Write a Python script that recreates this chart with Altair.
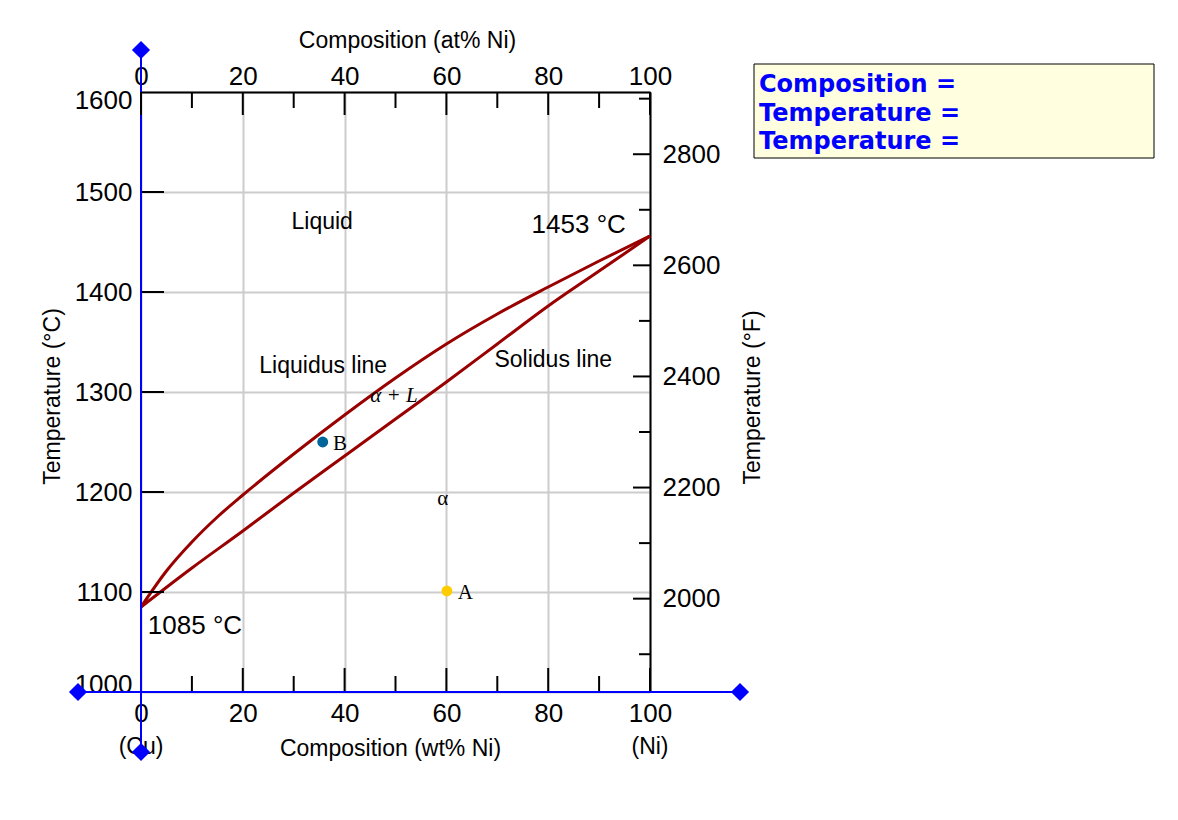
import altair as alt
import pandas as pd

# ---------------- data ----------------
liquidus_wt = [0, 5, 10, 15, 20, 30, 40, 50, 60, 70, 80, 90, 100]
liquidus_T = [1085, 1121, 1150, 1175, 1197, 1238, 1277, 1314, 1348, 1378, 1405, 1431, 1456]
solidus_wt = [0, 10, 20, 30, 40, 50, 60, 70, 80, 90, 100]
solidus_T = [1085, 1124, 1161, 1199, 1236, 1273, 1310, 1348, 1386, 1421, 1456]

point_names = ["A", "B"]
point_wt = [60.1, 35.7]
point_T = [1101, 1250]
point_colors = ["#ffcc00", "#006699"]

sans_labels = ["Liquid", "Liquidus line", "Solidus line"]
sans_wt = [35.6, 35.8, 81.0]
sans_T = [1470, 1326, 1332]

big_labels = ["1453 °C", "1085 °C"]
big_wt = [86.0, 10.6]
big_T = [1467, 1066]

serif_labels = ["B", "α", "A"]
serif_wt = [39.1, 59.3, 63.7]
serif_T = [1248, 1193, 1099]

alphaL_label = ["α + L"]
alphaL_wt = [49.7]
alphaL_T = [1296]

wt_major = [0, 20, 40, 60, 80, 100]
wt_minor = [10, 30, 50, 70, 90]
c_ticks = [1000, 1100, 1200, 1300, 1400, 1500, 1600]
at_major = [0, 20, 40, 60, 80, 100]
at_minor = [10, 30, 50, 70, 90]
f_major = [2000, 2200, 2400, 2600, 2800]
f_minor = [1900, 2100, 2300, 2500, 2700, 2900]

info_lines = ["Composition =", "Temperature =", "Temperature ="]
end_labels = ["(Cu)", "(Ni)"]
end_wt = [0, 100]

W, H = 509, 600
FONT = "Liberation Sans"
RED = "#990000"
BLUE = "#0000ff"

xs = alt.Scale(domain=[0, 100], nice=False, zero=False)
ys = alt.Scale(domain=[1000, 1600], nice=False, zero=False)
xs2 = alt.Scale(domain=[0, 100], nice=False, zero=False)
ys2 = alt.Scale(domain=[1832, 2912], nice=False, zero=False)

common_lbl = dict(labelFont=FONT, labelFontSize=26, labelColor="black", format="d",
                  titleFont=FONT, titleFontSize=23, titleFontWeight="normal", titleColor="black")

x_axis = alt.Axis(orient="bottom", values=wt_major, title="Composition (wt% Ni)",
                  ticks=False, domain=False, grid=True, gridColor="#cccccc", gridWidth=2,
                  labelPadding=8, labelFlush=False, titlePadding=11, titleX=249, **common_lbl)
y_axis = alt.Axis(orient="left", values=c_ticks, title="Temperature (°C)",
                  ticks=False, domain=False, grid=True, gridColor="#cccccc", gridWidth=2,
                  labelPadding=9, labelFlush=True, labelFlushOffset=5,
                  titleX=-89, titleY=304, titleBaseline="middle", titleAlign="center",
                  titleAngle=270, **common_lbl)
x2_axis = alt.Axis(orient="top", values=at_major, title="Composition (at% Ni)",
                   ticks=False, domain=True, domainColor="black", domainWidth=2, grid=False,
                   labelPadding=3, labelFlush=False, titlePadding=11, titleX=266, **common_lbl)
y2_axis = alt.Axis(orient="right", values=f_major, title="Temperature (°F)",
                   ticks=False, domain=True, domainColor="black", domainWidth=2, grid=False,
                   labelPadding=12, labelFlush=False,
                   titleX=102, titleY=305, titleBaseline="middle", titleAlign="center",
                   titleAngle=270, **common_lbl)

X = alt.X("wt:Q", scale=xs, axis=x_axis)
Y = alt.Y("T:Q", scale=ys, axis=y_axis)

# ---------------- main layer (wt%, °C) ----------------
curves = pd.DataFrame({
    "wt": liquidus_wt + solidus_wt,
    "T": liquidus_T + solidus_T,
    "curve": ["liquidus"] * len(liquidus_wt) + ["solidus"] * len(solidus_wt),
})
curve_layer = alt.Chart(curves).mark_line(color=RED, strokeWidth=3, interpolate="monotone").encode(
    x=X, y=Y, detail="curve:N")

pts = pd.DataFrame({"name": point_names, "wt": point_wt, "T": point_T, "c": point_colors})
pt_layer = alt.Chart(pts).mark_circle(size=120, opacity=1).encode(
    x=X, y=Y, color=alt.Color("c:N", scale=None))

sans_df = pd.DataFrame({"t": sans_labels, "wt": sans_wt, "T": sans_T})
sans_layer = alt.Chart(sans_df).mark_text(font=FONT, fontSize=23, color="black").encode(
    x=X, y=Y, text="t:N")
big_df = pd.DataFrame({"t": big_labels, "wt": big_wt, "T": big_T})
big_layer = alt.Chart(big_df).mark_text(font=FONT, fontSize=26, color="black").encode(
    x=X, y=Y, text="t:N")
serif_df = pd.DataFrame({"t": serif_labels, "wt": serif_wt, "T": serif_T})
serif_layer = alt.Chart(serif_df).mark_text(font="Liberation Serif", fontSize=21, color="black").encode(
    x=X, y=Y, text="t:N")
al_df = pd.DataFrame({"t": alphaL_label, "wt": alphaL_wt, "T": alphaL_T})
al_layer = alt.Chart(al_df).mark_text(font="Liberation Serif", fontSize=21, fontStyle="italic",
                                      color="black").encode(x=X, y=Y, text="t:N")

bt_major = alt.Chart(pd.DataFrame({"wt": wt_major})).mark_rule(color="black", strokeWidth=2).encode(
    x=X, y=alt.value(H), y2=alt.value(H - 24))
bt_minor = alt.Chart(pd.DataFrame({"wt": wt_minor})).mark_rule(color="black", strokeWidth=2).encode(
    x=X, y=alt.value(H), y2=alt.value(H - 16))
lt = alt.Chart(pd.DataFrame({"T": c_ticks[1:-1]})).mark_rule(color="black", strokeWidth=2).encode(
    y=Y, x=alt.value(0), x2=alt.value(23))

end_df = pd.DataFrame({"t": end_labels, "wt": end_wt})
end_layer = alt.Chart(end_df).mark_text(font=FONT, fontSize=23, color="black").encode(
    x=X, y=alt.value(655), text="t:N")

vline = alt.Chart(pd.DataFrame({"wt": [0]})).mark_rule(color=BLUE, strokeWidth=2).encode(
    x=X, y=alt.value(-42), y2=alt.value(660))
hline = alt.Chart(pd.DataFrame({"T": [1000]})).mark_rule(color=BLUE, strokeWidth=2).encode(
    y=Y, x=alt.value(-63), x2=alt.value(599))
dia_v = alt.Chart(pd.DataFrame({"wt": [0, 0], "py": [-42, 660]})).mark_point(
    shape="diamond", filled=True, color=BLUE, size=330, opacity=1).encode(
    x=X, y=alt.Y("py:Q", scale=None))
dia_h = alt.Chart(pd.DataFrame({"T": [1000, 1000], "px": [-63, 599]})).mark_point(
    shape="diamond", filled=True, color=BLUE, size=330, opacity=1).encode(
    y=Y, x=alt.X("px:Q", scale=None))

box = alt.Chart(pd.DataFrame({"a": [0]})).mark_rect(fill="#ffffe0", stroke="black", strokeWidth=1).encode(
    x=alt.value(613), x2=alt.value(1013), y=alt.value(-28), y2=alt.value(66))
box_text = alt.Chart(pd.DataFrame({"t": ["\n".join(info_lines)]})).mark_text(
    font="DejaVu Sans", fontSize=24, fontWeight="bold", color=BLUE, align="left",
    baseline="top", lineBreak="\n", lineHeight=28.5).encode(
    x=alt.value(618), y=alt.value(-19), text="t:N")

main = alt.layer(curve_layer, lt, bt_major, bt_minor, pt_layer, sans_layer, big_layer,
                 serif_layer, al_layer, end_layer, vline, hline, dia_v, dia_h, box, box_text)

# ---------------- secondary layer (at%, °F) ----------------
X2 = alt.X("at:Q", scale=xs2, axis=x2_axis)
Y2 = alt.Y("F:Q", scale=ys2, axis=y2_axis)
tt_major = alt.Chart(pd.DataFrame({"at": at_major})).mark_rule(color="black", strokeWidth=2).encode(
    x=X2, y=alt.value(0), y2=alt.value(23))
tt_minor = alt.Chart(pd.DataFrame({"at": at_minor})).mark_rule(color="black", strokeWidth=2).encode(
    x=X2, y=alt.value(0), y2=alt.value(16))
rt_major = alt.Chart(pd.DataFrame({"F": f_major})).mark_rule(color="black", strokeWidth=2).encode(
    y=Y2, x=alt.value(W), x2=alt.value(W - 17))
rt_minor = alt.Chart(pd.DataFrame({"F": f_minor})).mark_rule(color="black", strokeWidth=2).encode(
    y=Y2, x=alt.value(W), x2=alt.value(W - 11))
second = alt.layer(tt_major, tt_minor, rt_major, rt_minor)

chart = alt.layer(main, second).resolve_scale(x="independent", y="independent").properties(
    width=W, height=H,
    autosize=alt.AutoSizeParams(type="none"),
    padding={"left": 141, "top": 92, "right": 528, "bottom": 128},
    background="white",
).configure_view(stroke=None)

chart.save("out.html", embed_options={"renderer": "svg", "actions": False})
